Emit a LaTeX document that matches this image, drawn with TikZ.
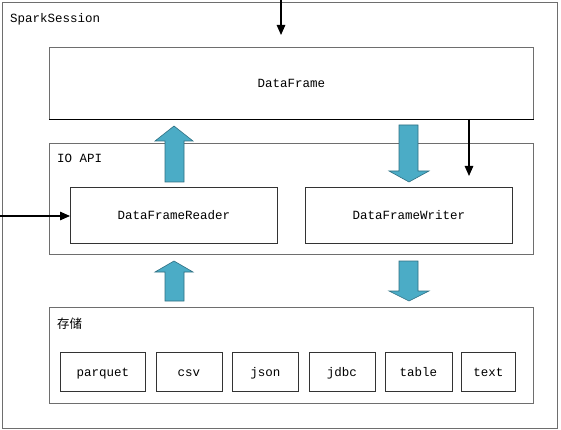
\documentclass[tikz,border=0pt]{standalone}
\usepackage{fontspec}
\setmonofont{Liberation Mono}
\newfontfamily\cjk{Noto Sans CJK SC}
\usetikzlibrary{arrows.meta}
\definecolor{boxline}{HTML}{6E6E6E}
\definecolor{blockblue}{HTML}{4BACC6}
\definecolor{blockedge}{HTML}{2F6F82}
\tikzset{
  frame/.style={draw=boxline, line width=0.8pt},
  inner/.style={draw=black!80, line width=0.8pt, fill=white},
  lbl/.style={font=\ttfamily\fontsize{12.5}{14}\selectfont, inner sep=0pt, text height=9.5pt, text depth=1pt},
  conn/.style={line width=1.2pt, -{Triangle[length=10pt,width=8.5pt]}},
  blk/.style={fill=blockblue, draw=blockedge, line width=0.6pt}
}
\begin{document}
\begin{tikzpicture}[x=1pt,y=-1pt]
\useasboundingbox (0,0) rectangle (561,430);
\fill[white] (0,0) rectangle (561,430);
% outer SparkSession frame
\draw[frame] (2,2) rectangle (557,428);
\node[lbl, anchor=west] (ss) at (10,18) {SparkSession};
% DataFrame
\node[inner, draw=boxline, minimum width=484pt, minimum height=72pt, anchor=north west, inner sep=0pt] (df) at (49,47) {};
\node[lbl] (dflbl) at (df.center) {DataFrame};
\draw[black, line width=1pt] (df.south west) -- (df.south east);
% IO API
\node[frame, minimum width=484pt, minimum height=111pt, anchor=north west, inner sep=0pt] (io) at (49,143) {};
\node[lbl, anchor=west] (iolbl) at (57,158) {IO API};
\node[inner, minimum width=207pt, minimum height=56pt, anchor=north west, inner sep=0pt] (rd) at (70,187) {};
\node[lbl] at (rd.center) {DataFrameReader};
\node[inner, minimum width=207pt, minimum height=56pt, anchor=north west, inner sep=0pt] (wr) at (305,187) {};
\node[lbl] at (wr.center) {DataFrameWriter};
% Storage
\node[frame, minimum width=484pt, minimum height=96pt, anchor=north west, inner sep=0pt] (st) at (49,307) {};
\node[anchor=west, inner sep=0pt, font=\cjk\fontsize{12.5}{14}\selectfont] (stlbl) at (57,324) {存储};
\node[inner, minimum width=85pt, minimum height=39pt, anchor=north west, inner sep=0pt] (pq) at (60,352) {};
\node[lbl] at (pq.center) {parquet};
\node[inner, minimum width=66pt, minimum height=39pt, anchor=north west, inner sep=0pt] (csv) at (155.5,352) {};
\node[lbl] at (csv.center) {csv};
\node[inner, minimum width=66pt, minimum height=39pt, anchor=north west, inner sep=0pt] (json) at (232,352) {};
\node[lbl] at (json.center) {json};
\node[inner, minimum width=66pt, minimum height=39pt, anchor=north west, inner sep=0pt] (jdbc) at (308.5,352) {};
\node[lbl] at (jdbc.center) {jdbc};
\node[inner, minimum width=67pt, minimum height=39pt, anchor=north west, inner sep=0pt] (tbl) at (384.5,352) {};
\node[lbl] at (tbl.center) {table};
\node[inner, minimum width=54pt, minimum height=39pt, anchor=north west, inner sep=0pt] (txt) at (461,352) {};
\node[lbl] at (txt.center) {text};
% block arrows
\draw[blk] (174,126) -- (193,141) -- (184,141) -- (184,182) -- (165,182) -- (165,141) -- (155,141) -- cycle;
\draw[blk] (399,125) -- (418,125) -- (418,171) -- (429,171) -- (409,182) -- (389,171) -- (399,171) -- cycle;
\draw[blk] (174,261) -- (193,272) -- (184,272) -- (184,301) -- (165,301) -- (165,272) -- (155,272) -- cycle;
\draw[blk] (399,261) -- (418,261) -- (418,291) -- (429,291) -- (409,301) -- (389,291) -- (399,291) -- cycle;
% black connectors
\coordinate (topin) at (281,0);
\coordinate (topend) at (281,35);
\draw[conn] (topin) -- (topend);
\coordinate (dfout) at (469,119);
\coordinate (dfend) at (469,176);
\draw[conn] (dfout) -- (dfend);
\coordinate (leftin) at (0,216);
\draw[conn] (leftin) -- (rd.west |- leftin);
\end{tikzpicture}
\end{document}
